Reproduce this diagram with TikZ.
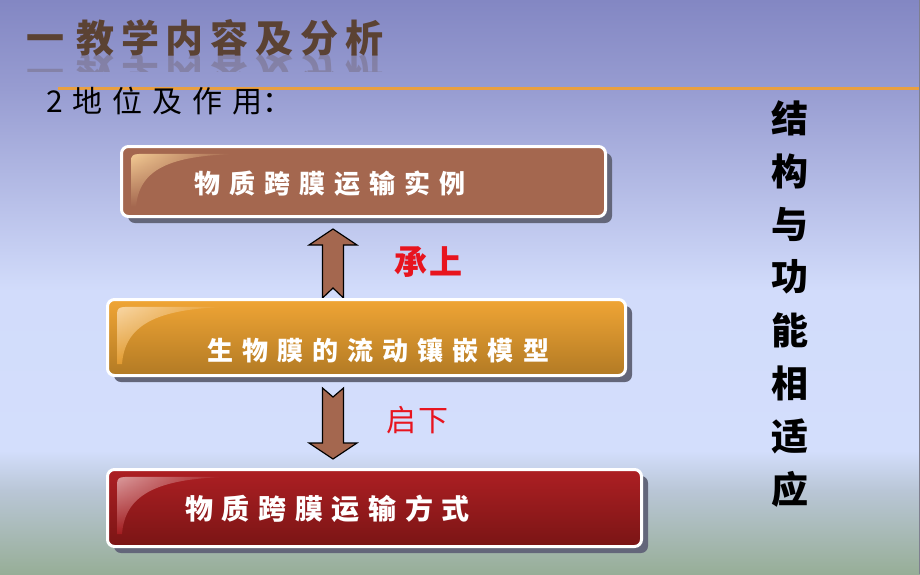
\documentclass[tikz,border=0pt]{standalone}
\usepackage{fontspec}
\newfontfamily\cjk{Noto Sans CJK SC}
\newfontfamily\boxfont[LetterSpace=35]{Noto Sans CJK SC}
\newfontfamily\boxfontb[LetterSpace=31]{Noto Sans CJK SC}
\newfontfamily\titlefont[LetterSpace=18]{Noto Sans CJK SC}
\newfontfamily\subfont[LetterSpace=33]{Noto Sans CJK SC}
\newfontfamily\labelfont[LetterSpace=8]{Noto Sans CJK SC}
\usetikzlibrary{fadings,shadows}
\definecolor{bgA}{HTML}{8387C3}
\definecolor{bgB}{HTML}{979CD1}
\definecolor{bgC}{HTML}{D2DCFB}
\definecolor{bgD}{HTML}{D3DEFC}
\definecolor{bgE}{HTML}{B9C6D6}
\definecolor{bgF}{HTML}{97AE97}
\definecolor{lineorange}{HTML}{E9A040}
\definecolor{titlebrown}{HTML}{5B4233}
\definecolor{brownbox}{HTML}{A4674F}
\definecolor{peach}{HTML}{F3CB94}
\definecolor{orangetop}{HTML}{F0A535}
\definecolor{orangebot}{HTML}{B27A24}
\definecolor{redtop}{HTML}{AD1F23}
\definecolor{redbot}{HTML}{7A1515}
\definecolor{shadowgray}{HTML}{63667A}
\definecolor{labelred}{HTML}{E8141E}
\definecolor{edgegray}{HTML}{7F7F8F}
\tikzset{
  boxbase/.style={rectangle, rounded corners=7pt, draw=white, line width=3pt,
    drop shadow={shadow xshift=6.5pt, shadow yshift=-6.5pt, fill=shadowgray, opacity=1}},
  boxtext/.style={anchor=west, inner sep=0pt, text=white, font=\boxfont\bfseries\fontsize{26}{26}\selectfont},
  blockarrow/.style={fill=brownbox, draw=black, line width=1.2pt, line join=miter},
  vchar/.style={inner sep=0pt, font=\cjk\bfseries\fontsize{37}{37}\selectfont},
  redlabel/.style={inner sep=0pt, text=labelred},
}
\begin{document}
\begin{tikzpicture}[x=1pt,y=-1pt]
\useasboundingbox (0,0) rectangle (920,574);
% background
\shade[top color=bgA, bottom color=bgB] (0,0) rectangle (920,89);
\shade[top color=bgB, bottom color=bgC] (0,88.5) rectangle (920,291);
\shade[top color=bgC, bottom color=bgD] (0,290.5) rectangle (920,451);
\shade[top color=bgD, bottom color=bgE] (0,450.5) rectangle (920,491);
\shade[top color=bgE, bottom color=bgF] (0,490.5) rectangle (920,574);
\fill[edgegray] (918.5,0) rectangle (920,574);
% orange rule
\draw[lineorange, line width=3pt] (58,88) -- (918.5,88);
% title and reflection
\node[anchor=west, inner sep=0pt, text=titlebrown, font=\titlefont\bfseries\fontsize{38}{38}\selectfont] (title) at (26,38) {一\kern12pt 教学内容及分析};
\begin{scope}
  \clip (0,54) rectangle (420,71);
  \node[anchor=west, inner sep=0pt, text=titlebrown, opacity=0.25, yscale=-1, transform shape, font=\titlefont\bfseries\fontsize{38}{38}\selectfont] (titlerefl) at (26,72) {一\kern12pt 教学内容及分析};
\end{scope}
\node[anchor=west, inner sep=0pt, font=\subfont\fontsize{30}{30}\selectfont] (sub) at (46,101) {2地位及作用\kern0pt ：};
% arrows
\draw[blockarrow] (333,229) -- (357,245) -- (343.5,245) -- (343.5,298) -- (333,288) -- (322.5,298) -- (322.5,245) -- (309,245) -- cycle;
\draw[blockarrow] (322.5,388) -- (333,397) -- (343.5,388) -- (343.5,443) -- (357,443) -- (333,459) -- (309,443) -- (322.5,443) -- cycle;
% boxes
\node[boxbase, fill=brownbox, minimum width=484pt, minimum height=70pt] (b1) at (363.5,181.5) {};
\node[boxbase, top color=orangetop, bottom color=orangebot, minimum width=518pt, minimum height=76pt] (b2) at (366.5,337.5) {};
\node[boxbase, top color=redtop, bottom color=redbot, minimum width=534pt, minimum height=77pt] (b3) at (374.5,508) {};
% glosses
\begin{scope}[shift={(b1.north west)}]
  \shade[top color=peach, bottom color=brownbox, path fading=east]
    (11,62) -- (11,16) .. controls (11,11) and (13,9) .. (19,9) -- (115,9) .. controls (50,11) and (19,24) .. (16,62) -- cycle;
\end{scope}
\begin{scope}[shift={(b2.north west)}]
  \shade[top color=white!55!orangetop, bottom color=orangetop!80!orangebot, path fading=east]
    (11,66) -- (11,16) .. controls (11,11) and (13,9) .. (19,9) -- (120,9) .. controls (52,11) and (19,26) .. (16,66) -- cycle;
\end{scope}
\begin{scope}[shift={(b3.north west)}]
  \shade[top color=white!55!redtop, bottom color=redtop!80!redbot, path fading=east]
    (11,66) -- (11,16) .. controls (11,11) and (13,9) .. (19,9) -- (120,9) .. controls (52,11) and (19,26) .. (16,66) -- cycle;
\end{scope}
% box texts
\node[boxtext] (t1) at (194,184) {物质跨膜运输实例};
\node[boxtext] (t2) at (207,350) {生物膜的流动镶嵌模型};
\node[boxtext, font=\boxfontb\bfseries\fontsize{28}{28}\selectfont] (t3) at (185,509) {物质跨膜运输方式};
% red labels
\node[redlabel, anchor=west, font=\labelfont\bfseries\fontsize{33}{33}\selectfont] (up) at (394,262) {承上};
\node[redlabel, anchor=west, font=\labelfont\fontsize{30}{30}\selectfont] (down) at (386,420) {启下};
% vertical text
\foreach \c [count=\i from 0] in {结,构,与,功,能,相,适,应} {
  \node[vchar] (v\i) at (790,118+53*\i) {\c};
}
\end{tikzpicture}
\end{document}
